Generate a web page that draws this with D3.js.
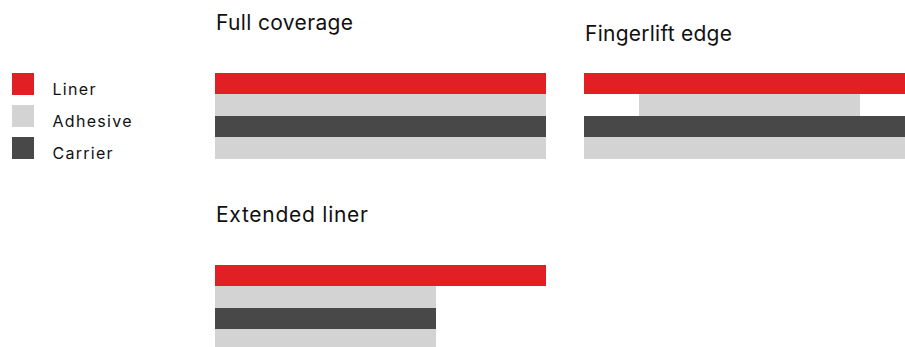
<!DOCTYPE html>
<html>
<head>
<meta charset="utf-8">
<script src="https://cdn.jsdelivr.net/npm/d3@7"></script>
<style>
  html, body { margin: 0; padding: 0; background: #fff; overflow: hidden; }
  svg { display: block; }
  text { font-family: Inter, "Noto Sans", sans-serif; fill: #111; }
</style>
</head>
<body>
<svg id="chart" width="905" height="347"></svg>
<script>
// ---- data ----
const layerNames = ["Liner", "Adhesive", "Carrier", "Adhesive"];
const legendItems = ["Liner", "Adhesive", "Carrier"];
const panelTitles = ["Full coverage", "Fingerlift edge", "Extended liner"];
// extent of each layer along the panel width (units 0..6), per panel
const fullStart = [0, 0, 0, 0];
const fullEnd = [6, 6, 6, 6];
const fingerStart = [0, 1, 0, 0];
const fingerEnd = [6, 5, 6, 6];
const extStart = [0, 0, 0, 0];
const extEnd = [6, 4, 4, 4];

// ---- layout / style ----
const colors = { Liner: "#e31f26", Adhesive: "#d3d3d3", Carrier: "#484848" };
const panelLayout = [
  { x: 215, y: 73, titleY: 30, titleW: 137, starts: fullStart, ends: fullEnd },
  { x: 584, y: 73, titleY: 41, titleW: 147, starts: fingerStart, ends: fingerEnd },
  { x: 215, y: 265, titleY: 222, titleW: 152, starts: extStart, ends: extEnd }
];
const legendW = { Liner: 43, Adhesive: 79, Carrier: 60 };

const svg = d3.select("#chart");
const x = d3.scaleLinear().domain([0, 6]).range([0, 331]);
const y = d3.scaleBand().domain(d3.range(layerNames.length)).range([0, 85.6]).padding(0);

panelLayout.forEach((p, i) => {
  svg.append("text")
    .attr("x", p.x + 1)
    .attr("y", p.titleY)
    .attr("font-size", 21)
    .attr("textLength", p.titleW)
    .attr("lengthAdjust", "spacing")
    .text(panelTitles[i]);
  const g = svg.append("g").attr("transform", `translate(${p.x},${p.y})`);
  g.selectAll("rect")
    .data(layerNames.map((n, k) => ({ n, k, s: p.starts[k], e: p.ends[k] })))
    .join("rect")
    .attr("x", d => x(d.s))
    .attr("width", d => x(d.e) - x(d.s))
    .attr("y", d => y(d.k))
    .attr("height", y.bandwidth())
    .attr("fill", d => colors[d.n])
    .attr("shape-rendering", "crispEdges");
});

// legend
const ly = d3.scaleBand().domain(legendItems).range([73, 73 + 32 * 3]);
const lg = svg.append("g");
legendItems.forEach(n => {
  lg.append("rect")
    .attr("x", 12).attr("y", ly(n))
    .attr("width", 22).attr("height", 22)
    .attr("fill", colors[n]);
  lg.append("text")
    .attr("x", 52.5).attr("y", ly(n) + 21.8)
    .attr("font-size", 16)
    .attr("textLength", legendW[n])
    .attr("lengthAdjust", "spacing")
    .text(n);
});
</script>
</body>
</html>
